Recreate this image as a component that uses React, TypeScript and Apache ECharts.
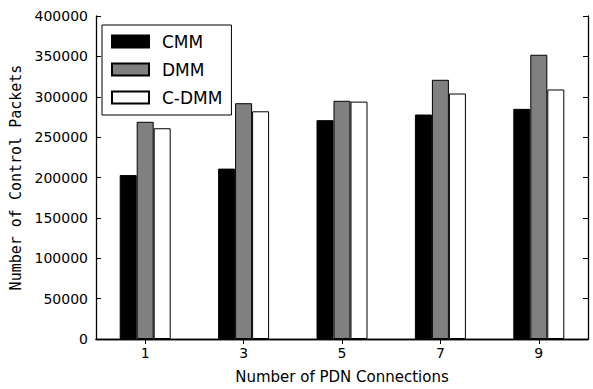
import React, { useEffect, useRef } from "react";
import * as echarts from "echarts";

const categories = ["1", "3", "5", "7", "9"];
const cmm = [203000, 211000, 271000, 278000, 285000];
const dmm = [269000, 292000, 295000, 321000, 352000];
const cdmm = [261000, 282000, 294000, 304000, 309000];
const seriesNames = ["CMM", "DMM", "C-DMM"];
const seriesColors = ["#000000", "#808080", "#ffffff"];

export default function App() {
  const ref = useRef<HTMLDivElement>(null);
  useEffect(() => {
    if (!ref.current) return;
    const chart = echarts.init(ref.current, undefined, { renderer: "svg" });
    const sans = "DejaVu Sans";
    const tickStyle = { show: true, inside: true, length: 5, lineStyle: { color: "#000", width: 1 } };
    const lineStyle = { show: true, lineStyle: { color: "#000", width: 1.3 } };
    const values = [cmm, dmm, cdmm];
    chart.setOption({
      animation: false,
      backgroundColor: "#ffffff",
      grid: { left: 96, right: 5, top: 16, bottom: 45 },
      legend: {
        orient: "vertical",
        left: 102,
        top: 25,
        data: seriesNames,
        icon: "rect",
        itemWidth: 37,
        itemHeight: 12,
        itemGap: 11,
        padding: [8, 9, 9, 9],
        borderColor: "#000",
        borderWidth: 1,
        backgroundColor: "#fff",
        textStyle: { fontFamily: sans, fontSize: 17, color: "#000", padding: [0, 0, 0, 8] },
      },
      xAxis: [
        {
          type: "category",
          data: categories,
          position: "bottom",
          axisLine: lineStyle,
          axisTick: { ...tickStyle, alignWithLabel: true },
          axisLabel: { fontFamily: sans, fontSize: 14, color: "#000", margin: 7 },
          name: "Number of PDN Connections",
          nameLocation: "middle",
          nameGap: 30,
          nameTextStyle: { fontFamily: sans, fontSize: 15, color: "#000" },
          splitLine: { show: false },
        },
        {
          type: "category",
          data: categories,
          position: "top",
          axisLine: lineStyle,
          axisTick: { ...tickStyle, alignWithLabel: true },
          axisLabel: { show: false },
          splitLine: { show: false },
        },
      ],
      yAxis: [
        {
          type: "value",
          min: 0,
          max: 400000,
          interval: 50000,
          position: "left",
          axisLine: lineStyle,
          axisTick: tickStyle,
          axisLabel: {
            fontFamily: sans,
            fontSize: 14,
            color: "#000",
            margin: 8,
            formatter: (v: number) => String(v),
          },
          splitLine: { show: false },
          name: "Number of Control Packets",
          nameLocation: "middle",
          nameGap: 65,
          nameTextStyle: { fontFamily: "DejaVu Sans Mono", fontSize: 15, color: "#000" },
        },
        {
          type: "value",
          min: 0,
          max: 400000,
          interval: 50000,
          position: "right",
          axisLine: lineStyle,
          axisTick: tickStyle,
          axisLabel: { show: false },
          splitLine: { show: false },
        },
      ],
      series: seriesNames.map((name, i) => ({
        name,
        type: "bar",
        data: values[i],
        barWidth: 17,
        barGap: "0%",
        itemStyle: { color: seriesColors[i], borderColor: "#000", borderWidth: 1 },
      })),
    });
    return () => chart.dispose();
  }, []);
  return <div ref={ref} style={{ width: 593, height: 389, position: "absolute", left: 0, top: 0 }} />;
}
